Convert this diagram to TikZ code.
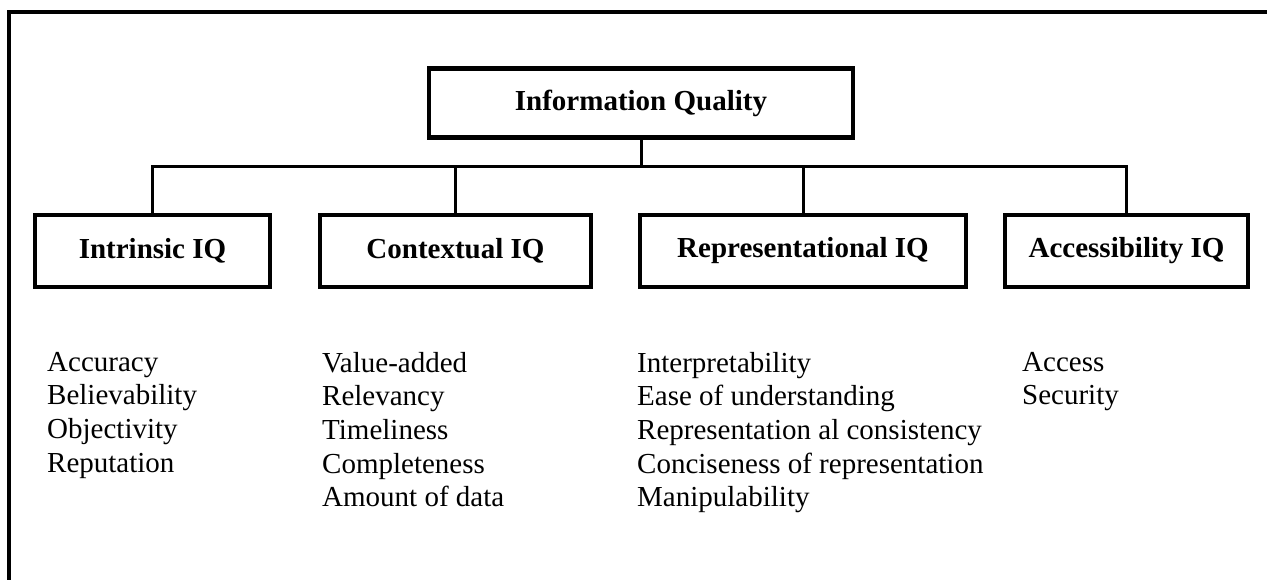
\documentclass[tikz,border=0pt]{standalone}
\usepackage{fontspec}
\setmainfont{Liberation Serif}
\usepackage{tikz}

\begin{document}
\begin{tikzpicture}[x=1pt,y=-1pt,
  box/.style={draw=black,line width=4.5pt,inner sep=0pt,minimum height=72pt,
    font=\bfseries\fontsize{29}{34}\selectfont},
  lst/.style={anchor=north west,inner sep=0pt,align=left,
    font=\fontsize{29}{33.6}\selectfont},
  ln/.style={draw=black,line width=3pt}]
\useasboundingbox (0,0) rectangle (1267,580);
\draw[line width=3.5pt] (9,584) -- (9,12) -- (1271,12);
\node[box,minimum width=424pt,minimum height=69pt] (iq) at (641,103) {Information Quality};
\node[box,minimum width=235pt] (intr) at (152.5,251) {Intrinsic IQ};
\node[box,minimum width=271pt] (ctx) at (455.5,251) {Contextual IQ};
\node[box,minimum width=326pt] (rep) at (803,251) {Representational IQ};
\node[box,minimum width=243pt] (acc) at (1126.5,251) {Accessibility IQ};
\coordinate (bus) at (641,167);
\draw[ln] (iq.south) -- (bus);
\foreach \n in {intr,ctx,rep,acc} {\draw[ln] (bus) -| (\n.north);}
\node[lst] (l1) at (47,352) {Accuracy\\Believability\\Objectivity\\Reputation};
\node[lst] (l2) at (322,352) {Value-added\\Relevancy\\Timeliness\\Completeness\\Amount of data};
\node[lst] (l3) at (637,352) {Interpretability\\Ease of understanding\\Representation al consistency\\Conciseness of representation\\Manipulability};
\node[lst] (l4) at (1022,352) {Access\\Security};
\end{tikzpicture}
\end{document}
